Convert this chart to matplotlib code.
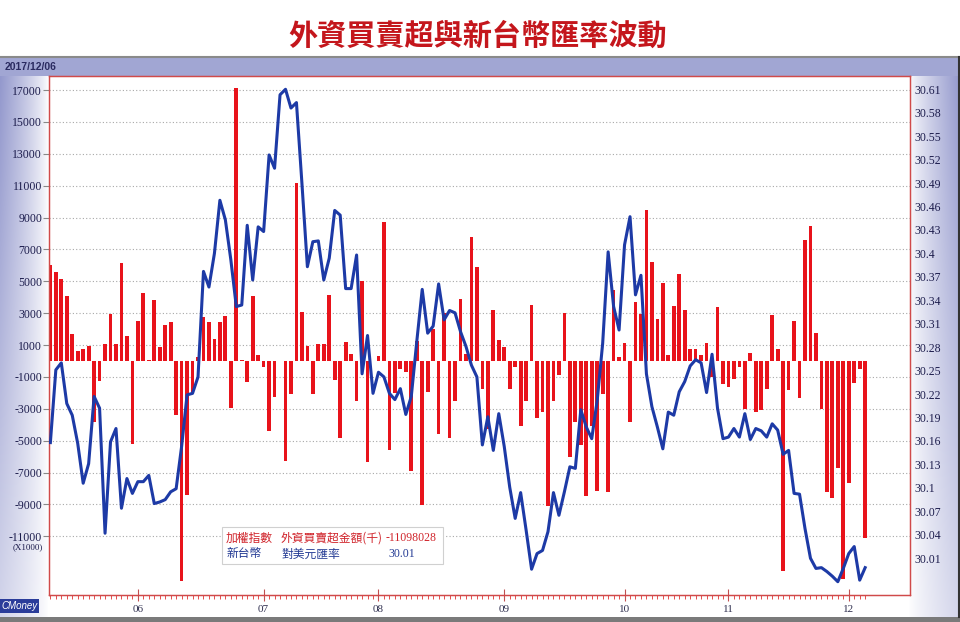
import matplotlib
matplotlib.use('Agg')
import matplotlib.pyplot as plt
import matplotlib.transforms as mtransforms
from matplotlib.patches import Rectangle
from matplotlib.lines import Line2D
import numpy as np

# 外資買賣超金額, daily trading days 2017/05 ~ 2017/12/06 (unit: 千 x1000)
foreign_net = [
    6000, 5580, 5150, 4060, 1670, 630, 730, 940, -3850, -1250,
    1080, 2960, 1080, 6150, 1600, -5200, 2540, 4270, 40, 3850,
    880, 2290, 2460, -3400, -13800, -8400, -2000, 270, 2750, 2460,
    1350, 2440, 2800, -2960, 17100, 80, -1300, 4060, 400, -350,
    -4400, -2250, 0, -6250, -2100, 11150, 3060, 940, -2080, 1040,
    1040, 4170, -1200, -4800, 1200, 460, -2500, 5000, -6350, 0,
    310, 8700, -5600, -2000, -520, -690, -6900, 1250, -9060, -1920,
    1980, -4580, 3020, -4800, -2500, 3900, 460, 7800, 5900, -1730,
    -4270, 3230, 1310, 880, -1730, -350, -4060, -2500, 3500, -3580,
    -3170, -9100, -2540, -880, 3020, -6000, -3850, -5250, -8440, -4060,
    -8170, -2040, -8230, 4440, 270, 1150, -3850, 3690, 2980, 9480,
    6230, 2650, 4920, 350, 3440, 5480, 3230, 730, 730, 380,
    1150, -980, 3380, -1420, -1600, -1150, -350, -2980, 480, -3230,
    -3080, -1770, 2880, 730, -13200, -1830, 2540, -2350, 7600, 8440,
    1730, -3020, -8230, -8580, -6700, -13650, -7670, -1400, -520, -11098,
]

# 新台幣對美元匯率
usd_twd = [
    30.170, 30.263, 30.272, 30.220, 30.205, 30.169, 30.118, 30.143, 30.229, 30.214,
    30.054, 30.171, 30.188, 30.086, 30.124, 30.105, 30.120, 30.120, 30.128, 30.092,
    30.094, 30.097, 30.107, 30.111, 30.165, 30.231, 30.233, 30.254, 30.389, 30.369,
    30.412, 30.480, 30.455, 30.404, 30.344, 30.346, 30.448, 30.378, 30.446, 30.440,
    30.538, 30.521, 30.615, 30.622, 30.598, 30.605, 30.502, 30.395, 30.427, 30.428,
    30.378, 30.406, 30.467, 30.461, 30.367, 30.367, 30.410, 30.258, 30.307, 30.233,
    30.260, 30.254, 30.233, 30.225, 30.239, 30.206, 30.229, 30.299, 30.366, 30.310,
    30.319, 30.373, 30.327, 30.339, 30.336, 30.312, 30.293, 30.269, 30.254, 30.167,
    30.203, 30.160, 30.207, 30.165, 30.113, 30.073, 30.106, 30.058, 30.008, 30.028,
    30.032, 30.056, 30.106, 30.077, 30.107, 30.139, 30.137, 30.212, 30.190, 30.175,
    30.224, 30.297, 30.414, 30.344, 30.314, 30.423, 30.459, 30.359, 30.384, 30.258,
    30.216, 30.190, 30.162, 30.209, 30.205, 30.235, 30.248, 30.268, 30.276, 30.272,
    30.234, 30.283, 30.214, 30.175, 30.177, 30.188, 30.177, 30.207, 30.174, 30.188,
    30.185, 30.177, 30.194, 30.186, 30.155, 30.160, 30.105, 30.104, 30.060, 30.022,
    30.009, 30.010, 30.005, 29.999, 29.992, 30.009, 30.028, 30.037, 29.994, 30.010,
]

# first trading day of each month (bar index) and labels
month_pos = [16, 39, 60, 83, 105, 124, 146]
month_labels = ['06', '07', '08', '09', '10', '11', '12']

left_ticks = [-11000, -9000, -7000, -5000, -3000, -1000, 1000, 3000, 5000,
              7000, 9000, 11000, 13000, 15000, 17000]
right_ticks = [30.01, 30.04, 30.07, 30.1, 30.13, 30.16, 30.19, 30.22, 30.25, 30.28,
               30.31, 30.34, 30.37, 30.4, 30.43, 30.46, 30.49, 30.52, 30.55, 30.58, 30.61]

title = '外資買賣超與新台幣匯率波動'
date_text = '2017/12/06'
last_amount = '-11098028'
last_rate = '30.01'

CJK = ['Noto Sans CJK TC', 'DejaVu Sans']
NUM = ['Liberation Serif', 'DejaVu Serif']
plt.rcParams['font.family'] = NUM

W, H = 960, 622
fig = plt.figure(figsize=(W / 100, H / 100), dpi=100)
fig.patch.set_facecolor('white')


def px(x0, y0, x1, y1):
    # pixel box (top-left origin) -> figure fraction rect
    return [x0 / W, 1 - y1 / H, (x1 - x0) / W, (y1 - y0) / H]


# lavender panel behind the chart
bg = fig.add_axes(px(0, 57, 960, 617))
bg.set_axis_off()
xs = np.arange(960)[None, :]
ys = np.arange(560)[:, None]
t_left = np.clip((48 - xs) / 48, 0, 1) ** 0.8
t_right = np.clip((xs - 908) / 52, 0, 1) ** 0.8
t = np.maximum(t_left, t_right) * (1 - 0.6 * ys / 560)
t = np.where(ys < 19, 0.85, t)
lav = np.array([0.57, 0.59, 0.80])
img = 1 - t[..., None] * (1 - lav)
bg.imshow(img, aspect='auto', extent=(0, 1, 0, 1))

fig.add_artist(Line2D([0, 1], [1 - 57 / H] * 2, color='#8a8a8a', lw=1.5))
fig.add_artist(Rectangle((0, 0), 1, 5 / H, transform=fig.transFigure,
                         facecolor='#7a7a7a', edgecolor='none'))
fig.add_artist(Line2D([958.5 / W] * 2, [5 / H, 1 - 57 / H], color='#333333', lw=1.5))

# main chart
ax = fig.add_axes(px(49, 76, 910, 595))
ax.set_facecolor('white')
x = np.arange(len(foreign_net))
ax.bar(x, foreign_net, width=0.68, color='#e8131b', zorder=2)
ax.set_xlim(-0.25, 157.2)
ax.set_ylim(-14680, 17880)
ax.set_yticks(left_ticks)
ax.set_yticklabels([str(v) for v in left_ticks])
ax.yaxis.grid(True, linestyle=(0, (1, 2)), color='#a8a8a8', linewidth=0.8)
ax.set_axisbelow(True)
ax.tick_params(axis='y', direction='out', length=4, color='#888888', pad=1,
               labelsize=8.5, labelcolor='#1c1c4c')
ax.set_xticks(month_pos)
ax.set_xticklabels(month_labels)
ax.set_xticks(x, minor=True)
ax.tick_params(axis='x', which='major', direction='inout', length=8, color='#c05050',
               pad=3, labelsize=8, labelcolor='#303050')
ax.tick_params(axis='x', which='minor', direction='out', length=3, color='#e03030')

ax2 = ax.twinx()
ax2.plot(x, usd_twd, color='#1d3aa6', linewidth=2.2, zorder=3)
ax2.set_ylim(29.975, 30.639)
ax2.set_yticks(right_ticks)
ax2.set_yticklabels([f'{v:g}' for v in right_ticks])
ax2.tick_params(axis='y', length=0, pad=3, labelsize=8.5, labelcolor='#1c1c4c')
offset = mtransforms.ScaledTranslation(0, 9.4 / 100, fig.dpi_scale_trans)
for lab in ax2.get_yticklabels():
    lab.set_transform(lab.get_transform() + offset)

for a in (ax, ax2):
    for s in a.spines.values():
        s.set_color('#d04a4a')
        s.set_linewidth(0.9)

# texts
fig.text(478 / W, 1 - 36 / H, title, ha='center', va='center', fontsize=21,
         fontweight='bold', color='#c4161c', family=CJK)
fig.text(5 / W, 1 - 67 / H, date_text, ha='left', va='center', fontsize=7.5,
         fontweight='bold', color='#2a2a60', family=['Liberation Sans', 'DejaVu Sans'])
fig.text(43 / W, 1 - 547 / H, '(X1000)', ha='right', va='center', fontsize=6.5,
         color='#1c1c4c')
fig.text(1 / W, 1 - 606 / H, 'CMoney', ha='left', va='center', fontsize=7,
         color='white', style='italic', family=['Liberation Sans', 'DejaVu Sans'],
         bbox=dict(facecolor='#2a3c9a', edgecolor='none', pad=1.2))

# legend box
fig.add_artist(Rectangle((222 / W, 1 - 564 / H), 221 / W, 37 / H, transform=fig.transFigure,
                         facecolor='white', edgecolor='#d0d0d0', lw=0.8, zorder=5))
red, blue = '#d0232a', '#233a94'
row1, row2 = 1 - 538 / H, 1 - 554 / H
fig.text(226 / W, row1, '加權指數', color=red, fontsize=8.5, va='center', family=CJK, zorder=6)
fig.text(281 / W, row1, '外資買賣超金額(千)', color=red, fontsize=8.5, va='center', family=CJK, zorder=6)
fig.text(386 / W, row1, last_amount, color=red, fontsize=8.5, va='center', zorder=6)
fig.text(226 / W, row2, '新台幣', color=blue, fontsize=8.5, va='center', family=CJK, zorder=6)
fig.text(281 / W, row2, '對美元匯率', color=blue, fontsize=8.5, va='center', family=CJK, zorder=6)
fig.text(388 / W, row2, last_rate, color=blue, fontsize=8.5, va='center', zorder=6)

fig.savefig('out.png', dpi=100)
